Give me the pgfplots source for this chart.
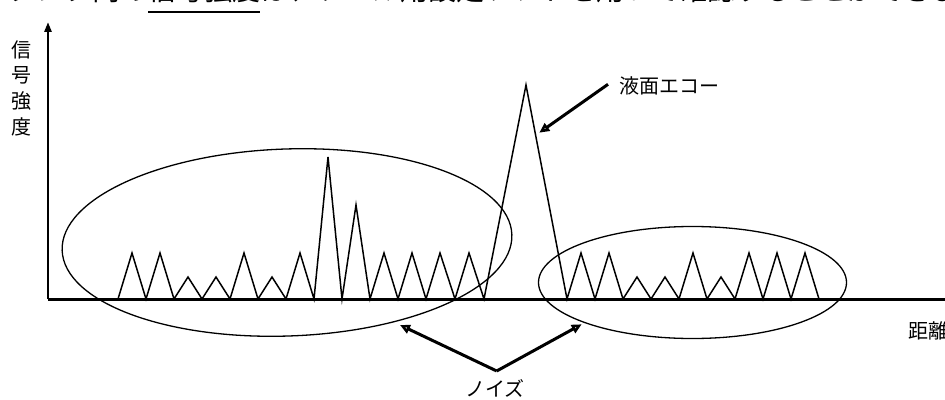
\documentclass[border=0pt]{standalone}
\usepackage{fontspec}
\usepackage{pgfplots}
\pgfplotsset{compat=1.18}
\usetikzlibrary{arrows.meta}
\newfontfamily\jp{Noto Sans CJK JP}
\begin{document}
\begin{tikzpicture}
\begin{axis}[x=1bp,y=1bp,xmin=0,xmax=945,ymin=-100,ymax=299,hide axis,clip=false]
% signal (distance, strength)
\addplot[black,line width=1.5bp,line join=miter] coordinates {
(118,0)(132,46)(146,0)(160,46)(174,0)(188,22)(202,0)(216,22)(230,0)(244,46)(258,0)(272,22)(286,0)(300,46)(314,0)(328,142)(342,0)(356,94)(370,0)(384,46)(398,0)(412,46)(426,0)(440,46)(455,0)(469,46)(484,0)(526,214)(567,0)
(581,46)(595,0)(609,46)(623,0)(637,22)(651,0)(665,22)(679,0)(693,46)(707,0)(721,22)(735,0)(749,46)(763,0)(777,46)(791,0)(805,46)(819,0)};
% axes
\draw[line width=3bp] (axis cs:48,0) -- (axis cs:950,0);
\draw[line width=2.5bp,-{Triangle[length=10bp,width=7bp]}] (axis cs:48,0) -- (axis cs:48,277);
% ellipses
\draw[line width=1.3bp, rotate around={2:(axis cs:287,56.5)}] (axis cs:287,56.5) ellipse [x radius=225bp, y radius=93.5bp];
\draw[line width=1.3bp] (axis cs:692.5,16.5) ellipse [x radius=154bp, y radius=56bp];
% arrows
\draw[line width=3bp,-{Triangle[open,length=10bp,width=9bp]}] (axis cs:608,214.7) -- (axis cs:539.3,166.3);
\draw[line width=3bp,-{Triangle[open,length=10bp,width=9bp]}] (axis cs:496.7,-72) -- (axis cs:400,-26);
\draw[line width=3bp,-{Triangle[open,length=10bp,width=9bp]}] (axis cs:496.7,-72) -- (axis cs:581.7,-25.3);
% labels
\node[anchor=west,inner sep=0pt,font=\jp\fontsize{20bp}{24bp}\selectfont] at (axis cs:619,213) {液面エコー};
\node[inner sep=0pt,font=\jp\fontsize{20bp}{24bp}\selectfont] at (axis cs:495,-89) {ノイズ};
\node[anchor=west,inner sep=0pt,font=\jp\fontsize{20bp}{24bp}\selectfont] at (axis cs:908,-32) {距離};
\node[inner sep=0pt,font=\jp\fontsize{20bp}{24bp}\selectfont] at (axis cs:21,249) {信};
\node[inner sep=0pt,font=\jp\fontsize{20bp}{24bp}\selectfont] at (axis cs:21,224) {号};
\node[inner sep=0pt,font=\jp\fontsize{20bp}{24bp}\selectfont] at (axis cs:21,198) {強};
\node[inner sep=0pt,font=\jp\fontsize{20bp}{24bp}\selectfont] at (axis cs:21,172) {度};
% cut-off body text line above
\node[anchor=base west,inner sep=0pt,font=\jp\fontsize{28bp}{32bp}\selectfont] at (axis cs:8,298) {タンク内の信号強度は、ツール用設定ソフトを用いて確認することができます。};
\draw[line width=1.8bp] (axis cs:148,287) -- (axis cs:260,287);
\coordinate (SW) at (axis cs:0,-100);
\coordinate (NE) at (axis cs:945,299);
\end{axis}
\pgfresetboundingbox
\path[use as bounding box] (SW) rectangle (NE);
\end{tikzpicture}
\end{document}
